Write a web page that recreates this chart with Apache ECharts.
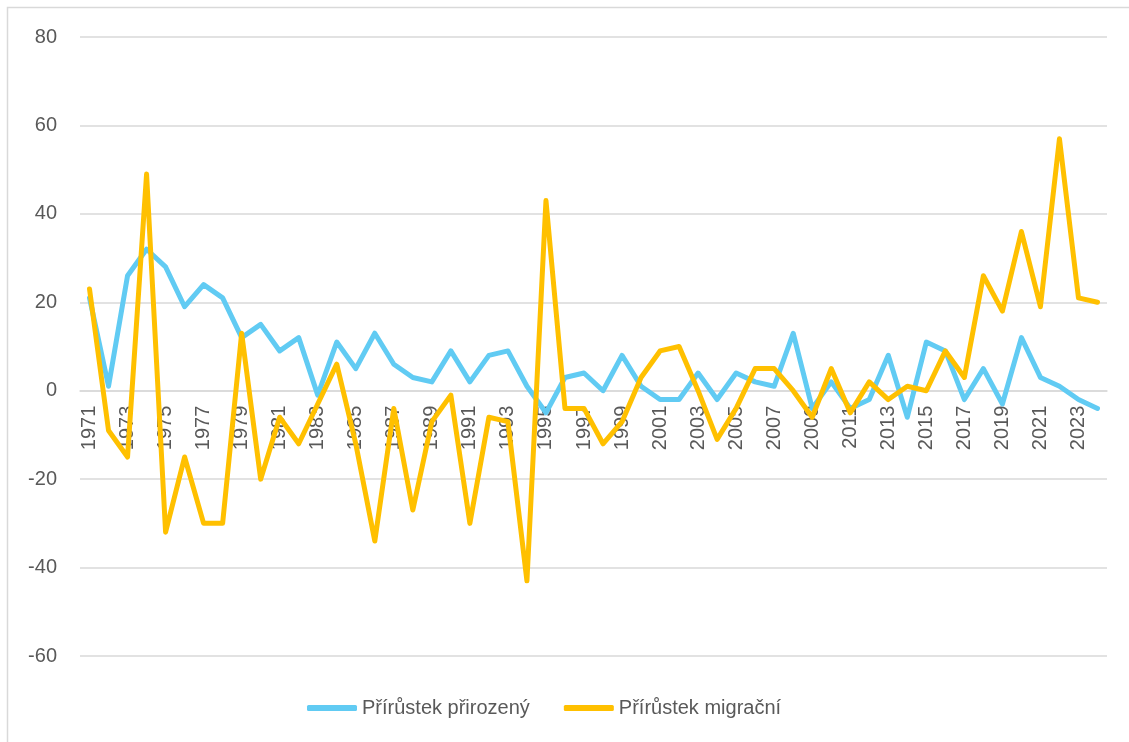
<!DOCTYPE html>
<html>
<head>
<meta charset="utf-8">
<script src="https://cdn.jsdelivr.net/npm/echarts@6/dist/echarts.min.js"></script>
<style>
  html, body { margin: 0; padding: 0; background: #fff; }
  #main { width: 1129px; height: 742px; }
</style>
</head>
<body>
<div id="main"></div>
<script>
const years = [];
for (let y = 1971; y <= 2024; y++) years.push(String(y));

const prirozeny = [
  21, 1, 26, 32, 28, 19, 24, 21, 12, 15,
  9, 12, -1, 11, 5, 13, 6, 3, 2, 9,
  2, 8, 9, 1, -5, 3, 4, 0, 8, 1,
  -2, -2, 4, -2, 4, 2, 1, 13, -4, 2,
  -4, -2, 8, -6, 11, 9, -2, 5, -3, 12,
  3, 1, -2, -4
];

const migracni = [
  23, -9, -15, 49, -32, -15, -30, -30, 13, -20,
  -6, -12, -3, 6, -12, -34, -4, -27, -7, -1,
  -30, -6, -7, -43, 43, -4, -4, -12, -7, 3,
  9, 10, 0, -11, -4, 5, 5, 0, -6, 5,
  -5, 2, -2, 1, 0, 9, 3, 26, 18, 36,
  19, 57, 21, 20
];

const yTicks = { min: -60, max: 80, step: 20 };
const textColor = '#595959';
const font = 'Liberation Sans';

const gridTop = 37, gridBottom = 86, chartH = 742;
// move the category axis up to the zero line
const plotH = chartH - gridTop - gridBottom;
const zeroOffset = -plotH * (0 - yTicks.min) / (yTicks.max - yTicks.min);

const chart = echarts.init(document.getElementById('main'));
chart.setOption({
  animation: false,
  color: ['#61CBF3', '#FFC000'],
  graphic: [{
    type: 'rect',
    shape: { x: 7.5, y: 7.5, width: 1200, height: 800 },
    style: { fill: 'none', stroke: '#D9D9D9', lineWidth: 1.5 },
    silent: true
  }],
  grid: { left: 80, right: 22, top: gridTop, bottom: gridBottom },
  legend: {
    bottom: 19,
    left: 302,
    itemWidth: 50,
    itemHeight: 6,
    itemGap: 34,
    icon: 'roundRect',
    textStyle: { color: textColor, fontSize: 20, fontFamily: font },
    data: ['Přírůstek přirozený', 'Přírůstek migrační']
  },
  xAxis: {
    type: 'category',
    data: years,
    boundaryGap: true,
    position: 'bottom',
    offset: zeroOffset,
    z: 0,
    axisLine: { onZero: false, lineStyle: { color: '#D9D9D9', width: 1.5 } },
    axisTick: { show: false },
    axisLabel: {
      interval: 1,
      rotate: 90,
      margin: 15,
      color: textColor,
      fontSize: 20,
      fontFamily: font
    }
  },
  yAxis: {
    type: 'value',
    min: yTicks.min,
    max: yTicks.max,
    interval: yTicks.step,
    axisLine: { show: false },
    axisTick: { show: false },
    axisLabel: { color: textColor, fontSize: 20, fontFamily: font, margin: 23 },
    splitLine: { lineStyle: { color: '#D9D9D9', width: 1.5 } }
  },
  series: [
    {
      name: 'Přírůstek přirozený',
      type: 'line',
      data: prirozeny,
      showSymbol: false,
      zlevel: 1,
      lineStyle: { width: 5, cap: 'round', join: 'round' },
      z: 2
    },
    {
      name: 'Přírůstek migrační',
      type: 'line',
      data: migracni,
      showSymbol: false,
      zlevel: 1,
      lineStyle: { width: 5, cap: 'round', join: 'round' },
      z: 3
    }
  ]
});
</script>
</body>
</html>
